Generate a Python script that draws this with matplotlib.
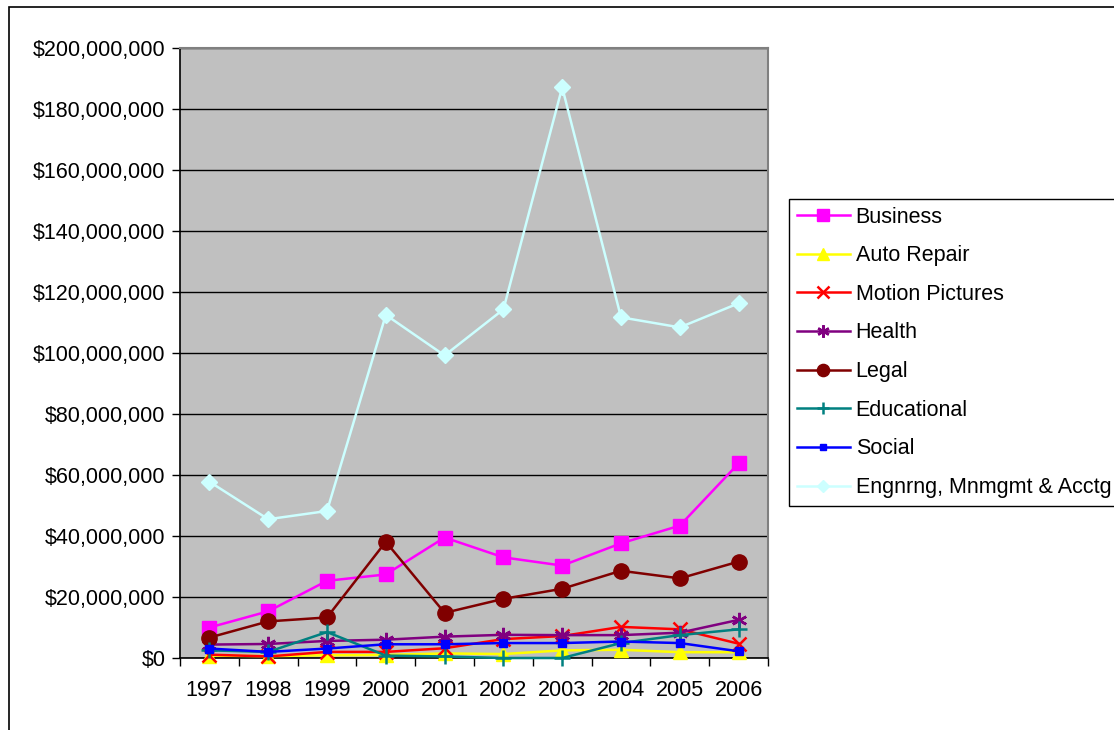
import matplotlib.pyplot as plt
from matplotlib.patches import Rectangle
from matplotlib.ticker import FuncFormatter, FixedLocator

plt.rcParams['font.family'] = ['Liberation Sans', 'DejaVu Sans']

years = ['1997', '1998', '1999', '2000', '2001', '2002', '2003', '2004', '2005', '2006']

# values in millions of dollars
business = [10.0, 15.3, 25.3, 27.4, 39.5, 33.0, 30.3, 37.6, 43.4, 63.8]
auto_repair = [0.8, 0.6, 0.9, 1.0, 1.5, 1.3, 2.5, 2.7, 1.9, 1.9]
motion_pictures = [1.1, 0.5, 2.0, 2.0, 3.2, 6.2, 7.2, 10.2, 9.4, 4.7]
health = [4.4, 4.6, 5.6, 6.0, 7.0, 7.6, 7.5, 7.5, 8.3, 12.5]
legal = [6.7, 12.0, 13.3, 38.1, 14.8, 19.4, 22.7, 28.6, 26.1, 31.6]
educational = [2.5, 2.0, 8.5, 0.8, 0.5, 0.0, 0.0, 4.9, 7.5, 9.4]
social = [3.1, 2.0, 3.1, 4.5, 4.5, 4.9, 4.9, 5.4, 4.9, 2.2]
engineering = [57.8, 45.5, 48.2, 112.5, 99.2, 114.3, 187.1, 111.7, 108.4, 116.3]

series = [
    ('Business', business, '#FF00FF', 's', 10),
    ('Auto Repair', auto_repair, '#FFFF00', '^', 10),
    ('Motion Pictures', motion_pictures, '#FF0000', 'x', 10),
    ('Health', health, '#800080', (6, 2, 0), 11),
    ('Legal', legal, '#800000', 'o', 11),
    ('Educational', educational, '#008080', '+', 11),
    ('Social', social, '#0000FF', 's', 6),
    ('Engnrng, Mnmgmt & Acctg', engineering, '#CCFFFF', 'D', 8),
]

W, H = 1114, 730
FS = 15.5
fig = plt.figure(figsize=(W / 100, H / 100), dpi=100)

# outer chart border (runs off the right and bottom edges)
fig.patches.append(Rectangle((9 / W, -0.1), 1.2, 1 - 7 / H + 0.1, transform=fig.transFigure,
                             fill=False, edgecolor='black', linewidth=1.2))

ax = fig.add_axes([180 / W, 1 - 658 / H, (768 - 180) / W, (658 - 48) / H])
ax.set_facecolor('#C0C0C0')

x = list(range(len(years)))
for name, vals, color, marker, ms in series:
    ys = [v * 1e6 for v in vals]
    mew = 1.8 if marker in ('x', '+', (6, 2, 0)) else 1
    ax.plot(x, ys, color=color, linewidth=1.8, marker=marker, markersize=ms,
            markerfacecolor=color, markeredgecolor=color, markeredgewidth=mew,
            label=name, clip_on=False, zorder=3)

ax.set_xlim(-0.5, len(years) - 0.5)
ax.set_ylim(0, 200e6)
ax.set_yticks([i * 20e6 for i in range(11)])
ax.yaxis.set_major_formatter(FuncFormatter(lambda v, p: '${:,.0f}'.format(v)))
ax.grid(axis='y', color='black', linewidth=1)
ax.set_axisbelow(True)

# category axis: ticks sit between the years
ax.xaxis.set_major_locator(FixedLocator([i - 0.5 for i in range(len(years) + 1)]))
ax.xaxis.set_major_formatter(FuncFormatter(lambda v, p: ''))
ax.set_xticks(x, minor=True)
ax.set_xticklabels(years, minor=True)
ax.tick_params(axis='x', which='minor', length=0, pad=16, labelsize=FS)
ax.tick_params(axis='x', which='major', length=6, width=1, color='black')
ax.tick_params(axis='y', length=6, width=1, labelsize=FS, pad=4.5)

for side in ('left', 'bottom'):
    ax.spines[side].set_color('black')
    ax.spines[side].set_linewidth(1.2)
for side in ('right', 'top'):
    ax.spines[side].set_color('#808080')
    ax.spines[side].set_linewidth(1.5)

leg = fig.legend(loc='upper left', bbox_to_anchor=(789 / W, 1 - 199 / H),
                 bbox_transform=fig.transFigure, fontsize=FS, frameon=True,
                 fancybox=False, shadow=False, edgecolor='black', framealpha=1,
                 handlelength=2.5, handletextpad=0.25, labelspacing=0.82,
                 borderpad=0.35, borderaxespad=0, markerscale=0.8)
leg.get_frame().set_linewidth(1)

fig.savefig('out.png', dpi=100)
